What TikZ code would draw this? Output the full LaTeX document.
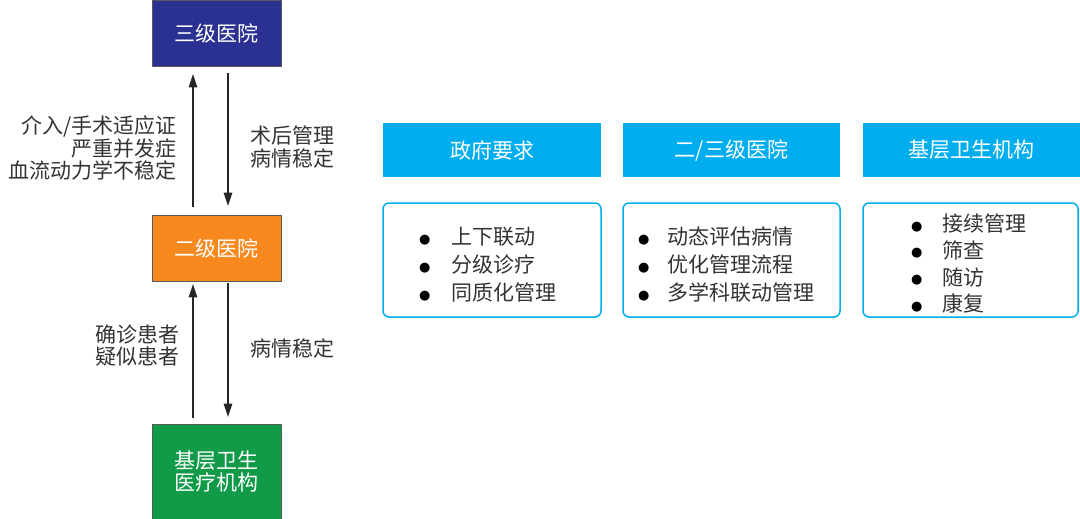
\documentclass[tikz,border=0pt]{standalone}
\usepackage{fontspec}
\setmainfont{Noto Sans CJK SC}
\newfontfamily\djv{DejaVu Sans}
\newcommand\mybul{\raisebox{1.5pt}{\color{black}\djv\fontsize{13}{13}\selectfont ●}}
\usetikzlibrary{arrows.meta}
\definecolor{navyC}{HTML}{2B3192}
\definecolor{orangeC}{HTML}{F7891F}
\definecolor{greenC}{HTML}{119A48}
\definecolor{cyanC}{HTML}{00AEEF}
\definecolor{labC}{HTML}{333333}
\begin{document}
\begin{tikzpicture}[x=1pt,y=-1pt]
\useasboundingbox (0,0) rectangle (1080,519);
\tikzset{
  hosp/.style={draw=black!65, line width=0.8pt, minimum width=129pt, text=white, font=\fontsize{21}{22}\selectfont, align=center, inner sep=0pt},
  head/.style={fill=cyanC, minimum height=54pt, text=white, font=\fontsize{21}{22}\selectfont, inner sep=0pt},
  body/.style={draw=cyanC, line width=1.5pt, rounded corners=6pt, fill=white, minimum height=114pt},
  lbl/.style={text=labC, font=\fontsize{21}{22.5}\selectfont, inner sep=0pt},
  arr/.style={line width=2.8pt, draw=black!85, -{Triangle[length=14pt,width=8pt]}},
}
% hospitals
\node[hosp, fill=navyC, minimum height=66pt] (s3) at (216.5,33) {三级医院};
\node[hosp, fill=orangeC, minimum height=66pt] (s2) at (216.5,248) {二级医院};
\node[hosp, fill=greenC, minimum height=96pt] (s1) at (216.5,472) {基层卫生\\医疗机构};
% arrows
\draw[arr, shorten <=8pt, shorten >=7pt] ([xshift=-23.5pt]s2.north) -- ([xshift=-23.5pt]s3.south);
\draw[arr, shorten <=7pt, shorten >=8pt] ([xshift=11.5pt]s3.south) -- ([xshift=11.5pt]s2.north);
\draw[arr, shorten <=6pt, shorten >=2pt] ([xshift=-23.5pt]s1.north) -- ([xshift=-23.5pt]s2.south);
\draw[arr, shorten <=2pt, shorten >=6pt] ([xshift=11.5pt]s2.south) -- ([xshift=11.5pt]s1.north);
% labels
\node[lbl, anchor=east, align=right] (l1) at (177,148) {介入/手术适应证\\严重并发症\\血流动力学不稳定};
\node[lbl, anchor=west, align=left] (l2) at (250,147) {术后管理\\病情稳定};
\node[lbl, anchor=east, align=right] (l3) at (180,345.5) {确诊患者\\疑似患者};
\node[lbl, anchor=west] (l4) at (250,348) {病情稳定};
% headers
\node[head, minimum width=218pt] (h1) at (492,150) {政府要求};
\node[head, minimum width=217pt] (h2) at (731.5,150) {二/三级医院};
\node[head, minimum width=217pt] (h3) at (971.5,150) {基层卫生机构};
% bodies
\node[body, minimum width=218pt] (b1) at (492,260) {};
\node[body, minimum width=217pt] (b2) at (731.5,260) {};
\node[body, minimum width=215pt] (b3) at (970.5,260) {};
% lists
\node[lbl, anchor=west, font=\fontsize{21}{28}\selectfont] (t1) at (419,267)
  {\begin{tabular}{@{}p{32pt}@{}l@{}}\mybul&上下联动\\\mybul&分级诊疗\\\mybul&同质化管理\end{tabular}};
\node[lbl, anchor=west, font=\fontsize{21}{28}\selectfont] (t2) at (638,267)
  {\begin{tabular}{@{}p{29pt}@{}l@{}}\mybul&动态评估病情\\\mybul&优化管理流程\\\mybul&多学科联动管理\end{tabular}};
\node[lbl, anchor=west, font=\fontsize{21}{26.7}\selectfont] (t3) at (911,266.5)
  {\begin{tabular}{@{}p{31pt}@{}l@{}}\mybul&接续管理\\\mybul&筛查\\\mybul&随访\\\mybul&康复\end{tabular}};
\end{tikzpicture}
\end{document}
